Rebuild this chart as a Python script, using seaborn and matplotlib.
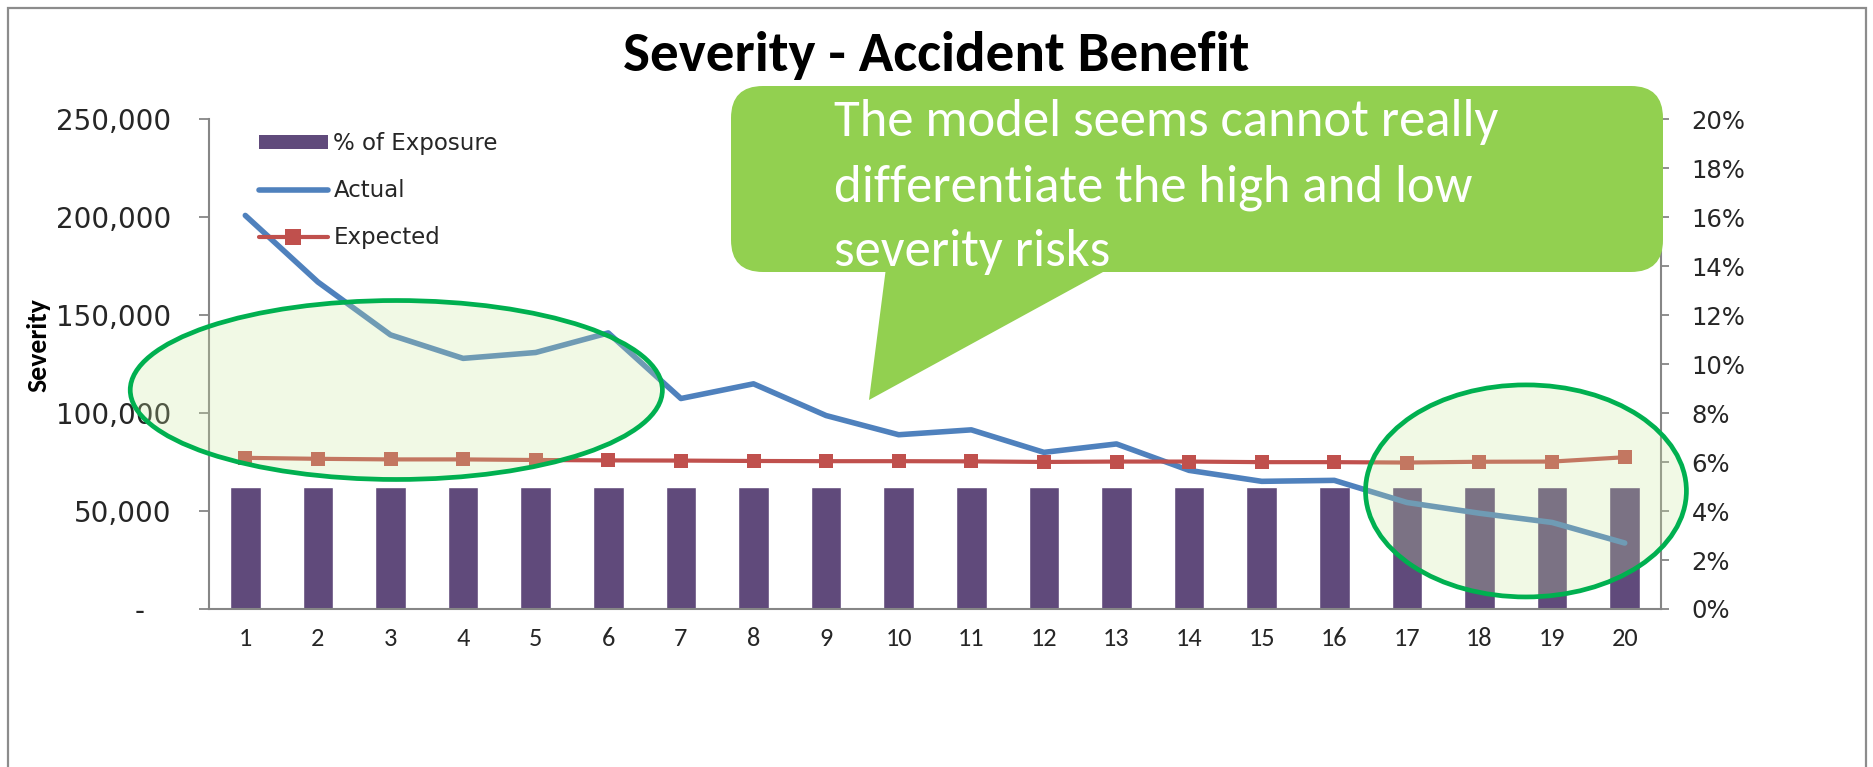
import numpy as np
import pandas as pd
import matplotlib
matplotlib.use("Agg")
import matplotlib.pyplot as plt
import seaborn as sns
from matplotlib import font_manager
from matplotlib.patches import Patch, Ellipse, FancyBboxPatch, Polygon, Rectangle
from matplotlib.lines import Line2D
from matplotlib.ticker import PercentFormatter, FixedLocator, FixedFormatter

# ---------------- data ----------------
categories = ["1", "2", "3", "4", "5", "6", "7", "8", "9", "10",
              "11", "12", "13", "14", "15", "16", "17", "18", "19", "20"]
exposure_pct = [0.05, 0.05, 0.05, 0.05, 0.05, 0.05, 0.05, 0.05, 0.05, 0.05,
                0.05, 0.05, 0.05, 0.05, 0.05, 0.05, 0.05, 0.05, 0.05, 0.05]
actual = [201000, 167000, 140000, 128000, 131000, 141000, 107500, 115000, 98800, 89000,
          91500, 80000, 84300, 70800, 65200, 65700, 54400, 48900, 44200, 33700]
expected = [77200, 76700, 76400, 76400, 76100, 75900, 75800, 75600, 75500, 75500,
            75400, 75100, 75300, 75300, 75000, 75000, 74800, 75200, 75300, 77500]
left_ticks = [0, 50000, 100000, 150000, 200000, 250000]
left_tick_labels = ["-   ", "50,000", "100,000", "150,000", "200,000", "250,000"]
right_ticks = [0.0, 0.02, 0.04, 0.06, 0.08, 0.10, 0.12, 0.14, 0.16, 0.18, 0.20]

title = "Severity - Accident Benefit"
ylabel = "Severity"
legend_labels = ["% of Exposure", "Actual", "Expected"]
callout_lines = ["The model seems cannot really",
                 "differentiate the high and low",
                 "severity risks"]

# ---------------- style ----------------
BAR_C = "#604A7B"
ACT_C = "#4F81BD"
EXP_C = "#C0504D"
AX_C = "#868686"
CALL_C = "#92D050"
ELL_EDGE = "#00B050"
TXT_C = "#262626"

sns.set_theme(style="white")
names = {f.name for f in font_manager.fontManager.ttflist}
calib = "Carlito" if "Carlito" in names else ("Open Sans Condensed" if "Open Sans Condensed" in names else "DejaVu Sans")
plt.rcParams["font.family"] = ["DejaVu Sans"]

W, H = 1874, 767
fig = plt.figure(figsize=(W / 100, H / 100), dpi=100)
fig.patch.set_facecolor("white")

def px(x, y):
    return (x / 100.0, (H - y) / 100.0)

ax_left, ax_right, ax_top, ax_bot = 209, 1661, 119.5, 609
ax = fig.add_axes([ax_left / W, (H - ax_bot) / H, (ax_right - ax_left) / W, (ax_bot - ax_top) / H])
ax2 = ax.twinx()

df = pd.DataFrame({"cat": categories, "exp_pct": exposure_pct, "actual": actual, "expected": expected})

sns.barplot(data=df, x="cat", y="exp_pct", order=categories, color=BAR_C, saturation=1,
            width=0.42, ax=ax2, errorbar=None)
sns.pointplot(data=df, x="cat", y="actual", order=categories, color=ACT_C, markers="",
              linestyles="-", errorbar=None, ax=ax)
sns.pointplot(data=df, x="cat", y="expected", order=categories, color=EXP_C, markers="s",
              linestyles="-", errorbar=None, ax=ax)

act_line, exp_line = ax.lines[0], ax.lines[1]
act_line.set_linewidth(4.0)
act_line.set_solid_capstyle("round")
act_line.set_solid_joinstyle("round")
exp_line.set_linewidth(3.0)
exp_line.set_markersize(10.5)
exp_line.set_markeredgewidth(0)

ax.set_zorder(ax2.get_zorder() + 1)
ax.patch.set_visible(False)

ax.set_ylim(0, 250000)
ax2.set_ylim(0, 0.20)
ax.set_xlim(-0.5, len(categories) - 0.5)

# y axes
ax.yaxis.set_major_locator(FixedLocator(left_ticks))
ax.yaxis.set_major_formatter(FixedFormatter(left_tick_labels))
ax2.yaxis.set_major_locator(FixedLocator(right_ticks))
ax2.yaxis.set_major_formatter(PercentFormatter(1.0, decimals=0))

ax.set_xticks(range(len(categories)))
ax.set_xticklabels(categories, family=[calib, "DejaVu Sans"])
ax.set_xticks(np.arange(-0.5, len(categories), 1.0), minor=True)
ax.set_xlabel("")
ax.set_ylabel("")
ax2.set_ylabel("")

ax.tick_params(axis="x", which="major", length=0, pad=13, labelsize=19, labelcolor=TXT_C)
ax.tick_params(axis="x", which="minor", length=7, width=1.3, color=AX_C, direction="out")
ax.tick_params(axis="y", left=True, length=7, width=1.3, color=AX_C, direction="out",
               pad=20, labelsize=20, labelcolor=TXT_C)
ax2.tick_params(axis="y", right=True, length=6, width=1.3, color=AX_C, direction="out",
                pad=16, labelsize=17.5, labelcolor=TXT_C)

for s in ["top", "right"]:
    ax.spines[s].set_visible(False)
for s in ["left", "bottom"]:
    ax.spines[s].set_color(AX_C)
    ax.spines[s].set_linewidth(1.5)
for s in ["top", "left", "bottom"]:
    ax2.spines[s].set_visible(False)
ax2.spines["right"].set_color(AX_C)
ax2.spines["right"].set_linewidth(1.5)
ax.grid(False)
ax2.grid(False)

fig.text(38 / W, (H - 345) / H, ylabel, rotation=90, ha="center", va="center",
         fontsize=20, fontweight="bold", family=[calib, "DejaVu Sans"], color="black")

# legend
handles = [Patch(facecolor=BAR_C, edgecolor="none"),
           Line2D([], [], color=ACT_C, lw=4.0),
           Line2D([], [], color=EXP_C, lw=3.0, marker="s", markersize=12, markeredgewidth=0)]
leg = fig.legend(handles, legend_labels, loc="upper left",
                 bbox_to_anchor=px(259, 132), bbox_transform=fig.dpi_scale_trans,
                 frameon=False, fontsize=16.5, labelspacing=1.05, handlelength=3.0,
                 handleheight=0.55, handletextpad=0.25, borderpad=0, borderaxespad=0)
for t in leg.get_texts():
    t.set_color(TXT_C)

# title
fig.text(936 / W, (H - 55) / H, title, ha="center", va="center", fontsize=41,
         fontweight="bold", family=[calib, "DejaVu Sans"], color="black")

# highlight ellipses (annotation shapes, in data coordinates)
ell_face = (0.80, 0.91, 0.62, 0.26)
e1 = Ellipse((2.08, 111850), width=7.33, height=91400, transform=ax.transData,
             facecolor=ell_face, edgecolor=ELL_EDGE, lw=3.4,
             clip_on=False, zorder=10)
e2 = Ellipse((17.64, 60300), width=4.42, height=108300, transform=ax.transData,
             facecolor=ell_face, edgecolor=ELL_EDGE, lw=3.4,
             clip_on=False, zorder=10)
ax.add_patch(e1)
ax.add_patch(e2)

# callout box
bx0, by0 = px(731, 272)
bx1, by1 = px(1663, 86)
box = FancyBboxPatch((bx0, by0), bx1 - bx0, by1 - by0,
                     boxstyle="round,pad=0,rounding_size=0.32",
                     transform=fig.dpi_scale_trans, facecolor=CALL_C, edgecolor="none", zorder=20)
fig.add_artist(box)
tail = Polygon([px(887, 260), px(1125, 260), px(869, 400)], closed=True,
               transform=fig.dpi_scale_trans, facecolor=CALL_C, edgecolor="none", zorder=20)
fig.add_artist(tail)
for line, yy in zip(callout_lines, [122, 188, 252]):
    x_in, y_in = px(834, yy)
    fig.text(x_in, y_in, line, transform=fig.dpi_scale_trans, ha="left", va="center",
             fontsize=38, color="white", family=[calib, "DejaVu Sans"], zorder=21)

# outer border
border = Rectangle((8 / W, -0.1), (1866 - 8) / W, (H - 8) / H + 0.1, transform=fig.transFigure,
                   fill=False, edgecolor="#8c8c8c", lw=1.6, zorder=30)
fig.add_artist(border)

fig.savefig("out.png", dpi=100, facecolor="white")
